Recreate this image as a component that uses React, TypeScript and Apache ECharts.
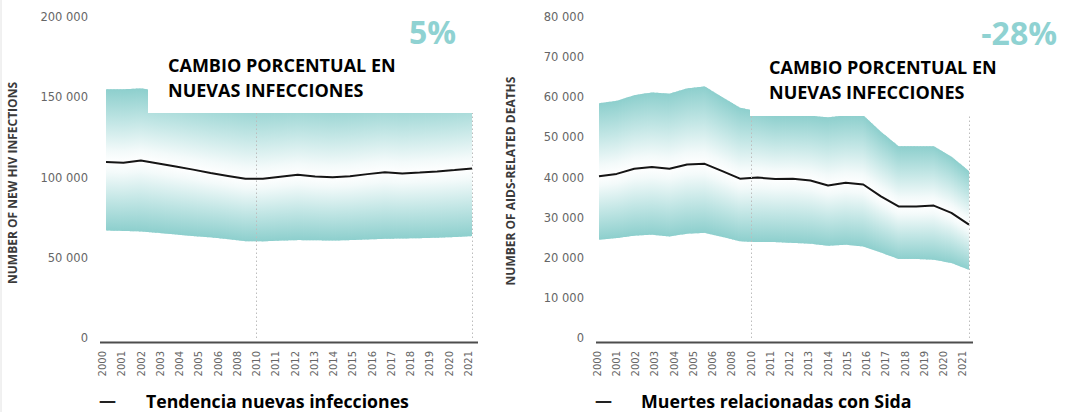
import React, { useEffect, useRef } from 'react';
import * as echarts from 'echarts';

const years = [
  '2000', '2001', '2002', '2003', '2004', '2005', '2006', '2007', '2008', '2009', '2010',
  '2011', '2012', '2013', '2014', '2015', '2016', '2017', '2018', '2019', '2020', '2021',
];
const tickLabels = [
  '2000', '2001', '2002', '2003', '2004', '2005', '2006', '2008', '2010', '2011',
  '2012', '2013', '2014', '2015', '2016', '2017', '2018', '2019', '2020', '2021',
];

const infectionsLine = [
  109600, 109200, 110600, 108700, 106800, 104900, 102800, 101000, 99200, 99200, 100500,
  101700, 100600, 100200, 100800, 102100, 103300, 102500, 103100, 103750, 104600, 105600,
];
const infectionsLow = [
  67000, 66700, 66400, 65500, 64500, 63500, 62700, 61600, 60300, 60200, 60700,
  61000, 60900, 60700, 61000, 61400, 61800, 62000, 62200, 62500, 62900, 63500,
];
const infectionsHigh = [
  155000, 155000, 155500, 154000, 153000, 151500, 150000, 149000, 147500, 147000, 147500,
  148500, 148000, 147000, 147500, 148500, 149500, 149000, 149500, 150000, 151000, 152500,
];

const deathsLine = [
  40300, 40900, 42200, 42600, 42200, 43250, 43400, 41600, 39700, 40000, 39600,
  39700, 39250, 38000, 38700, 38250, 35300, 32800, 32800, 33000, 31200, 28250,
];
const deathsLow = [
  24500, 24900, 25500, 25750, 25300, 26000, 26200, 25200, 24100, 23900, 23900,
  23700, 23500, 23000, 23250, 22800, 21300, 19700, 19700, 19500, 18700, 17000,
];
const deathsHigh = [
  58500, 59100, 60500, 61200, 60900, 62200, 62700, 60000, 57400, 56500, 55500,
  55500, 55400, 55000, 55500, 55500, 51400, 47800, 47800, 47800, 45200, 41600,
];

const leftChange = '5%';
const rightChange = '-28%';
const boxTitle = 'CAMBIO PORCENTUAL EN\nNUEVAS INFECCIONES';
const leftLegend = 'Tendencia nuevas infecciones';
const rightLegend = 'Muertes relacionadas con Sida';
const leftAxisName = 'NUMBER OF NEW HIV INFECTIONS';
const rightAxisName = 'NUMBER OF AIDS-RELATED DEATHS';

const TEAL = '#8dcfcd';
const upStops = [
  { offset: 0, color: TEAL },
  { offset: 0.45, color: '#c2e6e5' },
  { offset: 0.85, color: '#f3fafa' },
  { offset: 1, color: '#ffffff' },
];
const downStops = [
  { offset: 0, color: '#ffffff' },
  { offset: 0.15, color: '#f3fafa' },
  { offset: 0.55, color: '#c2e6e5' },
  { offset: 1, color: TEAL },
];

const fmt = (v: number) => (v === 0 ? '0' : String(v).replace(/\B(?=(\d{3})+(?!\d))/g, ' '));

function bandSeries(axisIdx: number, lo: number[], mid: number[], hi: number[]) {
  const n = years.length;
  return {
    type: 'custom',
    xAxisIndex: axisIdx,
    yAxisIndex: axisIdx,
    z: 2,
    silent: true,
    data: years.map((_, i) => [i, lo[i], mid[i], hi[i]]),
    encode: { x: 0, y: [1, 3] },
    renderItem: (params: any, api: any) => {
      const i = params.dataIndex;
      if (i >= n - 1) return null;
      const j = i + 1;
      const tA = api.coord([i, hi[i]]);
      const tB = api.coord([j, hi[j]]);
      const mA = api.coord([i, mid[i]]);
      const mB = api.coord([j, mid[j]]);
      const lA = api.coord([i, lo[i]]);
      const lB = api.coord([j, lo[j]]);
      const xA = tA[0];
      const xB = tB[0];
      const k = Math.max(1, Math.ceil((xB - xA) / 1.5));
      const lerp = (a: number, b: number, f: number) => a + (b - a) * f;
      const children: any[] = [];
      for (let s = 0; s < k; s++) {
        const f0 = s / k;
        const f1 = (s + 1) / k;
        const fc = (s + 0.5) / k;
        const x0 = lerp(xA, xB, f0) - (i === 0 && s === 0 ? 0 : 0.4);
        const x1 = lerp(xA, xB, f1) + (j === n - 1 && s === k - 1 ? 0 : 0.4);
        const t0 = lerp(tA[1], tB[1], f0);
        const t1 = lerp(tA[1], tB[1], f1);
        const m0 = lerp(mA[1], mB[1], f0);
        const m1 = lerp(mA[1], mB[1], f1);
        const l0 = lerp(lA[1], lB[1], f0);
        const l1 = lerp(lA[1], lB[1], f1);
        const tc = lerp(tA[1], tB[1], fc);
        const mc = lerp(mA[1], mB[1], fc);
        const lc = lerp(lA[1], lB[1], fc);
        children.push({
          type: 'polygon',
          shape: { points: [[x0, t0], [x1, t1], [x1, m1], [x0, m0]] },
          style: {
            fill: { type: 'linear', global: true, x: 0, y: tc, x2: 0, y2: mc, colorStops: upStops },
          },
        });
        children.push({
          type: 'polygon',
          shape: { points: [[x0, m0], [x1, m1], [x1, l1], [x0, l0]] },
          style: {
            fill: { type: 'linear', global: true, x: 0, y: mc, x2: 0, y2: lc, colorStops: downStops },
          },
        });
      }
      return { type: 'group', children };
    },
  };
}

const dotted = { type: [1.5, 2.5], color: '#bdbdbd', width: 1 };

function lineSeries(axisIdx: number, data: number[]) {
  return {
    type: 'line',
    xAxisIndex: axisIdx,
    yAxisIndex: axisIdx,
    z: 4,
    silent: true,
    symbol: 'none',
    data,
    lineStyle: { color: '#151515', width: 2 },
    markLine: {
      silent: true,
      symbol: ['none', 'none'],
      label: { show: false },
      lineStyle: dotted,
      data: [{ xAxis: '2021' }],
    },
  };
}

function markerSeries(axisIdx: number) {
  return {
    type: 'line',
    xAxisIndex: axisIdx,
    yAxisIndex: axisIdx,
    z: 3,
    silent: true,
    symbol: 'none',
    data: tickLabels.map(() => null),
    markLine: {
      silent: true,
      symbol: ['none', 'none'],
      label: { show: false },
      lineStyle: dotted,
      data: [{ xAxis: '2010' }],
    },
  };
}

const hiddenX = (gridIndex: number) => ({
  type: 'category',
  gridIndex,
  data: years,
  boundaryGap: false,
  axisLine: { show: false },
  axisTick: { show: false },
  axisLabel: { show: false },
  splitLine: { show: false },
});

const labelX = (gridIndex: number) => ({
  type: 'category',
  gridIndex,
  data: tickLabels,
  boundaryGap: false,
  axisLine: { show: false },
  axisTick: { show: false },
  splitLine: { show: false },
  axisLabel: {
    interval: 0,
    rotate: 90,
    margin: 13,
    fontFamily: 'DejaVu Sans',
    fontSize: 10,
    color: '#666666',
  },
});

const valueY = (gridIndex: number, max: number, interval: number, margin: number) => ({
  type: 'value',
  gridIndex,
  min: 0,
  max,
  interval,
  axisLine: { show: false },
  axisTick: { show: false },
  splitLine: { show: false },
  axisLabel: {
    margin,
    fontFamily: 'DejaVu Sans',
    fontSize: 11.5,
    color: '#666666',
    formatter: fmt,
  },
});

const hiddenY = (gridIndex: number) => ({
  type: 'value',
  gridIndex,
  min: 0,
  max: 1,
  show: false,
});

const titleFont = { fontFamily: 'Open Sans', fontWeight: 700 as any };

export default function App() {
  const ref = useRef<HTMLDivElement>(null);
  useEffect(() => {
    if (!ref.current) return;
    const chart = echarts.init(ref.current, undefined, { renderer: 'svg' });
    chart.setOption({
      animation: false,
      backgroundColor: '#ffffff',
      grid: [
        { left: 106, top: 17, width: 366, height: 321 },
        { left: 599, top: 17, width: 370, height: 321 },
        { left: 102.7, top: 17, width: 365.6, height: 321 },
        { left: 597.3, top: 17, width: 365.4, height: 321 },
      ],
      xAxis: [hiddenX(0), hiddenX(1), labelX(2), labelX(3)],
      yAxis: [
        valueY(0, 200000, 50000, 18),
        valueY(1, 80000, 10000, 15),
        hiddenY(2),
        hiddenY(3),
      ],
      series: [
        bandSeries(0, infectionsLow, infectionsLine, infectionsHigh),
        lineSeries(0, infectionsLine),
        bandSeries(1, deathsLow, deathsLine, deathsHigh),
        lineSeries(1, deathsLine),
        markerSeries(2),
        markerSeries(3),
      ],
      graphic: [
        { type: 'line', z: 40, shape: { x1: 1, y1: 0, x2: 1, y2: 412 }, style: { stroke: '#e2e2e2', lineWidth: 1 } },
        { type: 'line', z: 40, shape: { x1: 100, y1: 342.5, x2: 478, y2: 342.5 }, style: { stroke: '#4d4d4d', lineWidth: 2 } },
        { type: 'line', z: 40, shape: { x1: 596, y1: 342.5, x2: 973, y2: 342.5 }, style: { stroke: '#4d4d4d', lineWidth: 2 } },
        { type: 'rect', z: 50, shape: { x: 148, y: 0, width: 332, height: 113 }, style: { fill: '#ffffff' } },
        { type: 'rect', z: 50, shape: { x: 750, y: 0, width: 230, height: 116 }, style: { fill: '#ffffff' } },
        {
          type: 'text', z: 60, x: 12, y: 183, rotation: Math.PI / 2,
          style: { text: leftAxisName, align: 'center', verticalAlign: 'middle', fill: '#3a3a3a', fontSize: 12, fontFamily: 'Open Sans', fontWeight: 700 },
        },
        {
          type: 'text', z: 60, x: 510, y: 181, rotation: Math.PI / 2,
          style: { text: rightAxisName, align: 'center', verticalAlign: 'middle', fill: '#3a3a3a', fontSize: 12, fontFamily: 'Open Sans', fontWeight: 700 },
        },
        {
          type: 'text', z: 60, x: 456, y: 31,
          style: { text: leftChange, align: 'right', verticalAlign: 'middle', fill: '#8fd2d2', fontSize: 32, ...titleFont },
        },
        {
          type: 'text', z: 60, x: 1057, y: 32,
          style: { text: rightChange, align: 'right', verticalAlign: 'middle', fill: '#8fd2d2', fontSize: 32, ...titleFont },
        },
        {
          type: 'text', z: 60, x: 168, y: 52,
          style: { text: boxTitle, align: 'left', verticalAlign: 'top', fill: '#000000', fontSize: 18, lineHeight: 25.5, ...titleFont },
        },
        {
          type: 'text', z: 60, x: 769, y: 55,
          style: { text: boxTitle, align: 'left', verticalAlign: 'top', fill: '#000000', fontSize: 18, lineHeight: 24.5, ...titleFont },
        },
        {
          type: 'text', z: 60, x: 99, y: 400,
          style: { text: '—', align: 'left', verticalAlign: 'middle', fill: '#222222', fontSize: 17, fontFamily: 'Open Sans', fontWeight: 700 },
        },
        {
          type: 'text', z: 60, x: 146, y: 401,
          style: { text: leftLegend, align: 'left', verticalAlign: 'middle', fill: '#000000', fontSize: 17.7, ...titleFont },
        },
        {
          type: 'text', z: 60, x: 595, y: 400,
          style: { text: '—', align: 'left', verticalAlign: 'middle', fill: '#222222', fontSize: 17, fontFamily: 'Open Sans', fontWeight: 700 },
        },
        {
          type: 'text', z: 60, x: 641, y: 401,
          style: { text: rightLegend, align: 'left', verticalAlign: 'middle', fill: '#000000', fontSize: 17.8, ...titleFont },
        },
      ],
    });
    return () => chart.dispose();
  }, []);
  return (
    <div
      ref={ref}
      style={{ position: 'absolute', left: 0, top: 0, width: 1069, height: 412, background: '#fff' }}
    />
  );
}
